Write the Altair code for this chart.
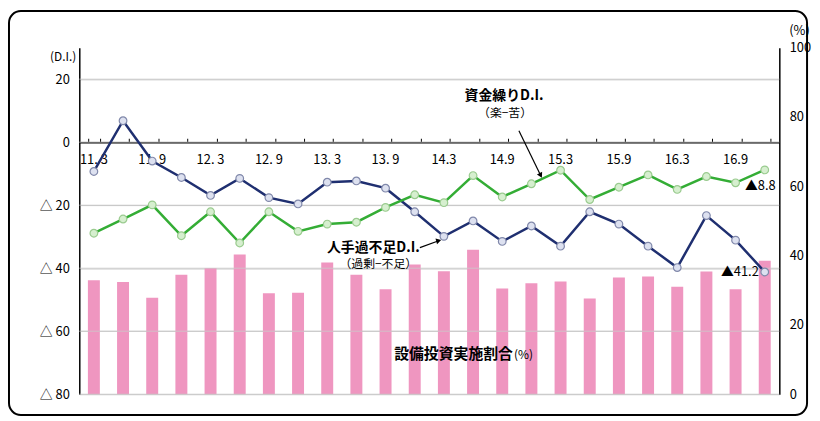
import altair as alt
import pandas as pd

categories = ["11. 3", "11. 6", "11. 9", "11. 12", "12. 3", "12. 6", "12. 9", "12. 12",
              "13. 3", "13. 6", "13. 9", "13. 12", "14.3", "14.6", "14.9", "14.12",
              "15.3", "15.6", "15.9", "15.12", "16.3", "16.6", "16.9", "16.12"]
labor_di = [-9.3, 6.8, -6.0, -11.2, -16.9, -11.5, -17.6, -19.6, -12.7, -12.3, -14.6, -22.1,
            -29.9, -25.0, -31.5, -26.6, -33.0, -22.1, -26.0, -33.0, -39.8, -23.3, -31.1, -41.2]
funds_di = [-28.9, -24.4, -19.9, -29.7, -22.1, -32.0, -22.1, -28.3, -26.0, -25.4, -20.7, -16.7,
            -19.2, -10.6, -17.4, -13.2, -8.9, -18.2, -14.3, -10.4, -15.0, -10.9, -12.9, -8.8]
capex_pct = [32.9, 32.4, 27.8, 34.5, 36.4, 40.3, 29.1, 29.3, 38.0, 34.5, 30.3, 37.4,
             35.5, 41.7, 30.5, 32.0, 32.5, 27.6, 33.7, 34.0, 31.0, 35.4, 30.3, 38.5]
series_names = ["人手過不足D.I.", "資金繰りD.I."]
left_ticks = [20, 0, -20, -40, -60, -80]
right_ticks = [0, 20, 40, 60, 80, 100]

FONT = "Noto Sans CJK JP"
NAVY = "#1f2f70"
GREEN = "#34ad35"
PINK = "#ef96c0"

bars_df = pd.DataFrame({"period": categories, "pct": capex_pct})
lines_df = pd.concat([
    pd.DataFrame({"period": categories, "di": labor_di, "series": series_names[0]}),
    pd.DataFrame({"period": categories, "di": funds_di, "series": series_names[1]}),
])
labor_last = pd.DataFrame({"period": [categories[-1]], "di": [labor_di[-1]]})
labor_last["label"] = ["▲" + f"{abs(v):.1f}" for v in labor_last["di"]]
funds_last = pd.DataFrame({"period": [categories[-1]], "di": [funds_di[-1]]})
funds_last["label"] = ["▲" + f"{abs(v):.1f}" for v in funds_last["di"]]
grid_df = pd.DataFrame({"di": left_ticks})

xscale = alt.Scale(domain=categories, paddingInner=0.59, paddingOuter=0.295)
yleft = alt.Scale(domain=[-80, 30], nice=False)
yright = alt.Scale(domain=[0, 100], nice=False)
color_scale = alt.Scale(domain=series_names, range=[NAVY, GREEN])

x_top_axis = alt.Axis(orient="top", offset=-95.5, title=None, labels=False,
                      ticks=True, tickBand="extent", tickSize=4, tickColor="#000",
                      domainColor="#000", domainWidth=1.5, grid=False)
y_left_axis = alt.Axis(orient="left", title=None, values=left_ticks, grid=True,
                       gridColor="#c4c4c4", gridWidth=1, gridOpacity=1,
                       ticks=False, domainColor="#000",
                       domainWidth=1.5, labelFont=FONT, labelFontSize=13,
                       labelColor="#000", labelPadding=10,
                       labelExpr="datum.value < 0 ? '△ ' + abs(datum.value) : datum.value")

# frame around whole chart
frame = alt.Chart(pd.DataFrame({"a": [0]})).mark_rect(
    fill="transparent", stroke="black", strokeWidth=2, cornerRadius=12
).encode(x=alt.value(-71), x2=alt.value(735), y=alt.value(-37), y2=alt.value(371))

bars = alt.Chart(bars_df).mark_bar(color=PINK, opacity=1).encode(
    x=alt.X("period:N", scale=xscale, sort=categories,
            axis=alt.Axis(orient="bottom", offset=-254.5, title=None, ticks=False,
                          domain=False, grid=False, labelAngle=0,
                          values=categories[::2], labelFont=FONT, labelFontSize=13,
                          labelColor="#000", labelPadding=12)),
    y=alt.Y("pct:Q", scale=yright,
            axis=alt.Axis(orient="right", title=None, values=right_ticks, grid=False,
                          ticks=False, domainColor="#000", domainWidth=1.5,
                          labelFont=FONT, labelFontSize=13, labelColor="#000",
                          labelPadding=10)),
)

def xl():
    return alt.X("period:N", scale=xscale, sort=categories, axis=x_top_axis)

def yl():
    return alt.Y("di:Q", scale=yleft, axis=y_left_axis)

# light gridlines at the left-axis ticks, sharing the lines' scale
grid = alt.Chart(grid_df).mark_rule(color="#c8c8c8", strokeWidth=1, opacity=0.8).encode(
    y=yl(), x=alt.value(0), x2=alt.value(707),
)

lines = alt.Chart(lines_df).mark_line(strokeWidth=2.5).encode(
    x=xl(), y=yl(),
    color=alt.Color("series:N", scale=color_scale, legend=None),
    detail="series:N",
)

pts = alt.Chart(lines_df).mark_point(filled=True, size=60, strokeWidth=1.2, opacity=1).encode(
    x=xl(), y=yl(),
    fill=alt.Fill("series:N", scale=alt.Scale(domain=series_names, range=["#dde1f0", "#d6efcf"]), legend=None),
    stroke=alt.Stroke("series:N", scale=alt.Scale(domain=series_names, range=["#8088aa", "#9acb8f"]), legend=None),
)

def last_text(df, dx, dy):
    return alt.Chart(df).mark_text(font=FONT, fontSize=13, align="right", baseline="middle",
                                   color="#000", dx=dx, dy=dy).encode(
        x=xl(), y=yl(), text="label:N",
    )

line_group = alt.layer(grid, lines, pts, last_text(labor_last, -6, 0), last_text(funds_last, 11, 16))

def txt(s, x, y, size=12, bold=False, align="center"):
    return alt.Chart(pd.DataFrame({"t": [s]})).mark_text(
        font=FONT, fontSize=size, fontWeight="bold" if bold else "normal",
        align=align, baseline="middle", color="#000"
    ).encode(text="t:N", x=alt.value(x), y=alt.value(y))

def arrow(x1, y1, x2, y2, angle):
    r = alt.Chart(pd.DataFrame({"a": [0]})).mark_rule(color="#000", strokeWidth=1.2).encode(
        x=alt.value(x1), y=alt.value(y1), x2=alt.value(x2), y2=alt.value(y2))
    h = alt.Chart(pd.DataFrame({"a": [0]})).mark_point(
        shape="triangle-up", filled=True, color="#000", size=35, angle=angle, opacity=1
    ).encode(x=alt.value(x2), y=alt.value(y2))
    return r + h

annots = alt.layer(
    txt("(D.I.)", -3, 9, 12, align="right"),
    txt("(%)", 717, -17, 13, align="left"),
    txt("資金繰りD.I.", 429, 49, 14, bold=True),
    txt("（楽−苦）", 430, 66, 12),
    arrow(444, 84, 466, 129, 153),
    txt("人手過不足D.I.", 297, 202, 14, bold=True),
    txt("（過剰−不足）", 302, 219, 12),
    arrow(344, 202, 363, 195, 75),
    txt("設備投資実施割合", 318, 309, 15, bold=True, align="left"),
    txt("(%)", 439, 310, 12, align="left"),
)

chart = alt.layer(frame, bars, line_group, annots).resolve_scale(
    y="independent", x="shared"
).resolve_axis(x="independent").properties(
    width=707, height=350,
    autosize=alt.AutoSizeParams(type="none"),
    padding={"left": 72, "top": 38, "right": 33, "bottom": 25},
    background="white",
).configure_view(stroke=None)

chart.save("out.html", embed_options={"renderer": "svg", "actions": False})
